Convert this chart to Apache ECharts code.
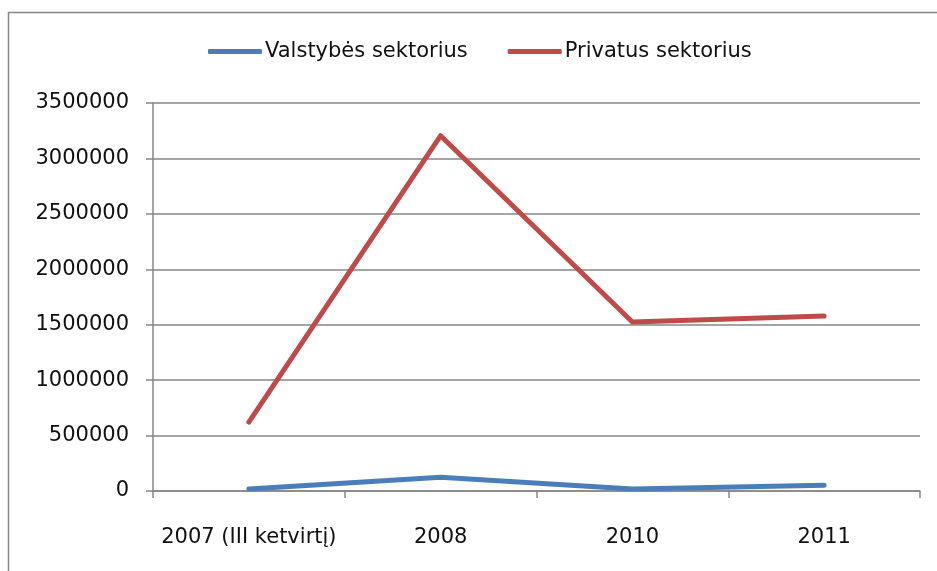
<!DOCTYPE html>
<html lang="lt">
<head>
    <meta charset="UTF-8">
    <title>Sektoriai</title>
    <script src="https://cdn.jsdelivr.net/npm/echarts@6/dist/echarts.min.js"></script>
    <style>
        html, body { margin: 0; border: 0; background: #fff; overflow: hidden; }
        #chart { width: 937px; height: 571px; }
    </style>
</head>
<body>
<div id="chart"></div>
<script type="text/javascript">
    const categories = ['2007 (III ketvirtį)', '2008', '2010', '2011'];
    const valstybes = [18000, 125000, 18000, 52000];
    const privatus = [622000, 3205000, 1525000, 1578000];

    const font = '"DejaVu Sans", sans-serif';
    const axisGray = '#868686';

    window.onload = () => {
        const chart = echarts.init(document.querySelector('#chart'));
        const option = {
            animation: false,
            textStyle: {fontFamily: font},
            // frame of the chart area (left and top edges only are visible)
            graphic: [
                {
                    type: 'line',
                    shape: {x1: 8.5, y1: 12.5, x2: 937, y2: 12.5},
                    style: {stroke: axisGray, lineWidth: 1.5}
                },
                {
                    type: 'line',
                    shape: {x1: 8.5, y1: 12, x2: 8.5, y2: 571},
                    style: {stroke: axisGray, lineWidth: 1.5}
                }
            ],
            legend: {
                top: 36,
                left: 203,
                itemWidth: 54,
                itemHeight: 5,
                itemGap: 40,
                icon: 'roundRect',
                textStyle: {fontSize: 21, fontFamily: font, color: '#111', padding: [0, 0, 0, -2]},
                data: ['Valstybės sektorius', 'Privatus sektorius']
            },
            grid: {left: 153, right: 17, top: 103, bottom: 80},
            xAxis: {
                type: 'category',
                data: categories,
                boundaryGap: true,
                axisLine: {lineStyle: {color: axisGray, width: 1.5}},
                axisTick: {show: true, length: 7, lineStyle: {color: axisGray, width: 1.5}},
                axisLabel: {fontSize: 21, fontFamily: font, color: '#111', margin: 36, interval: 0}
            },
            yAxis: {
                type: 'value',
                min: 0,
                max: 3500000,
                interval: 500000,
                axisLine: {show: true, lineStyle: {color: axisGray, width: 1.5}},
                axisTick: {show: true, length: 7, lineStyle: {color: axisGray, width: 1.5}},
                axisLabel: {fontSize: 21, fontFamily: font, color: '#111', margin: 24, formatter: v => String(v)},
                splitLine: {lineStyle: {color: axisGray, width: 1.5}}
            },
            series: [
                {
                    name: 'Valstybės sektorius',
                    type: 'line',
                    data: valstybes,
                    showSymbol: false,
                    symbol: 'none',
                    color: '#4A7EBB',
                    lineStyle: {width: 5, cap: 'round', join: 'round'}
                },
                {
                    name: 'Privatus sektorius',
                    type: 'line',
                    data: privatus,
                    showSymbol: false,
                    symbol: 'none',
                    color: '#BE4B48',
                    lineStyle: {width: 5, cap: 'round', join: 'round'}
                }
            ]
        };
        chart.setOption(option, true);
    };
</script>
</body>
</html>
